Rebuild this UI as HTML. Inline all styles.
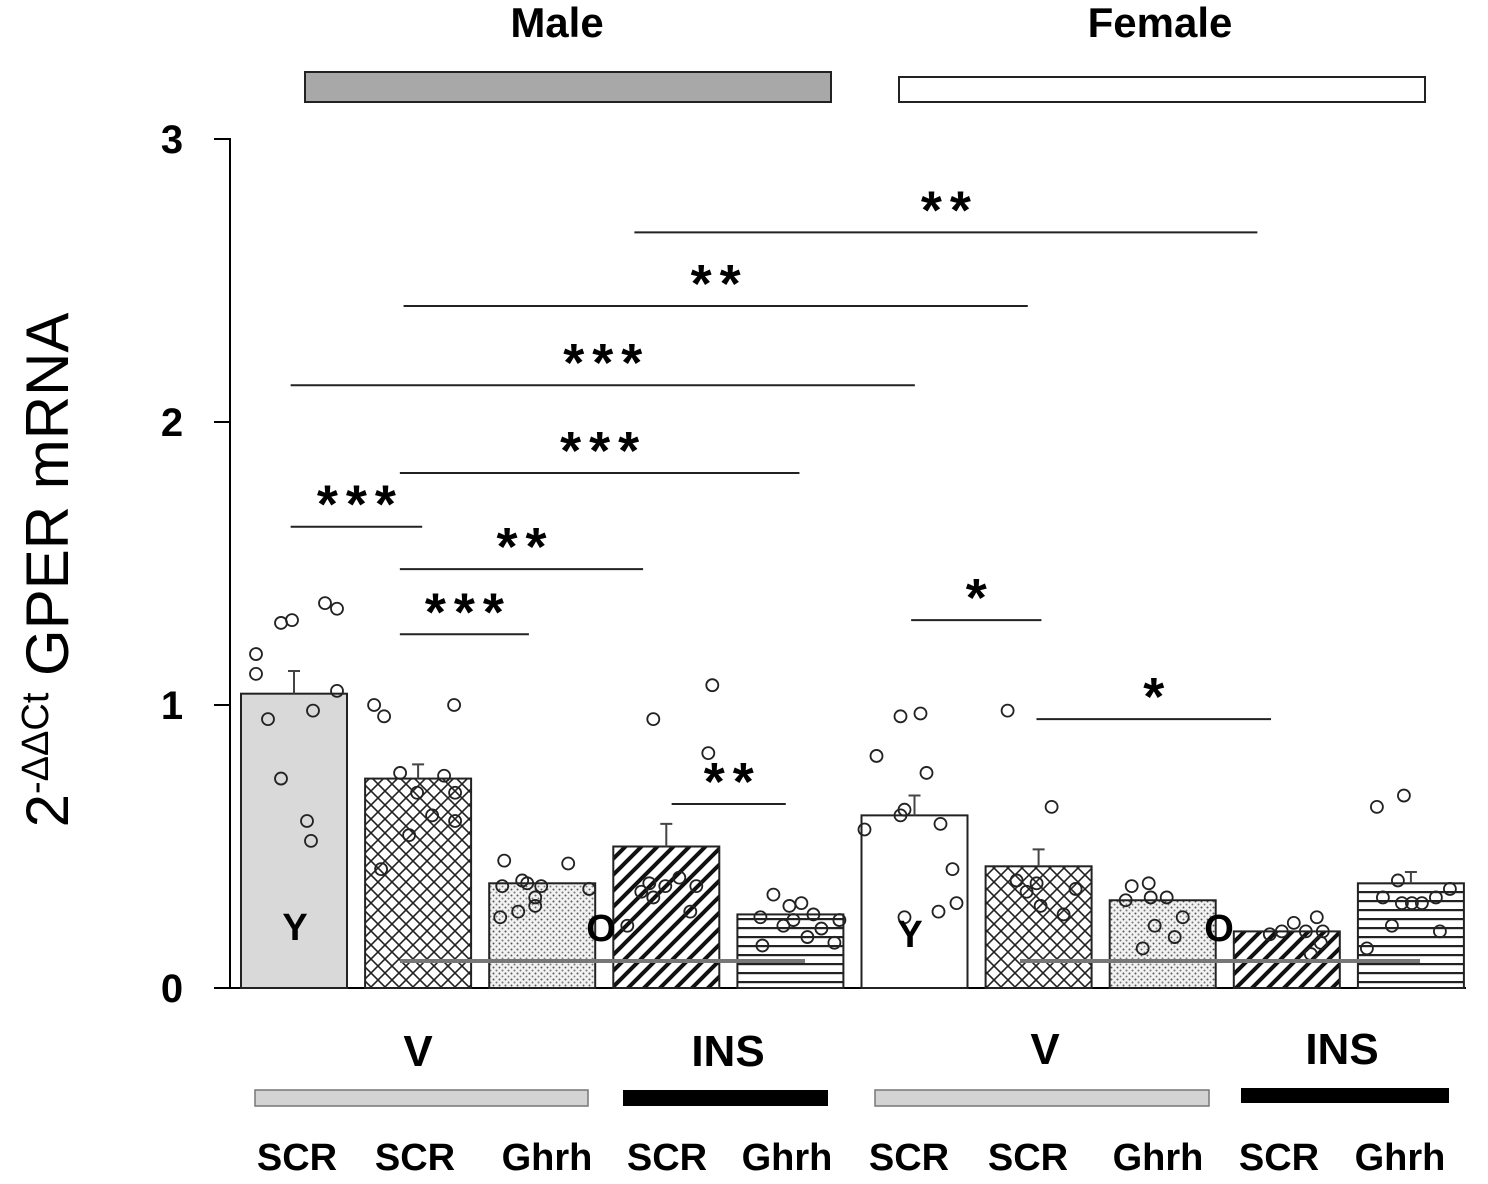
<!DOCTYPE html>
<html><head><meta charset="utf-8"><style>
html,body{margin:0;padding:0;background:#fff;width:1488px;height:1184px;overflow:hidden}
svg text{font-family:"Liberation Sans",Arial,sans-serif}
</style></head><body>
<svg id="chart" width="1488" height="1184" viewBox="0 0 1488 1184" xmlns="http://www.w3.org/2000/svg">
<defs>
<pattern id="pCross" patternUnits="userSpaceOnUse" width="14" height="14">
<rect width="14" height="14" fill="#fff"/>
<path d="M0,0L14,14M14,0L0,14" stroke="#222" stroke-width="1.6"/>
</pattern>
<pattern id="pDots" patternUnits="userSpaceOnUse" width="6" height="6">
<rect width="6" height="6" fill="#f2f2f2"/>
<circle cx="1.5" cy="1.5" r="1" fill="#555"/>
<circle cx="4.5" cy="4.5" r="1" fill="#777"/>
</pattern>
<pattern id="pDiag" patternUnits="userSpaceOnUse" width="16" height="16">
<rect width="16" height="16" fill="#fff"/>
<path d="M-4,20L20,-4M-4,4L4,-4M12,20L20,12" stroke="#111" stroke-width="4"/>
</pattern>
<pattern id="pHoriz" patternUnits="userSpaceOnUse" width="10" height="9">
<rect width="10" height="9" fill="#fff"/>
<rect y="0" width="10" height="2.2" fill="#222"/>
</pattern>
</defs>

<text x="557" y="37" font-size="42" font-weight="bold" text-anchor="middle">Male</text>
<rect x="305" y="72" width="526" height="30" fill="#a8a8a8" stroke="#222" stroke-width="2"/>
<text x="1160" y="37" font-size="42" font-weight="bold" text-anchor="middle">Female</text>
<rect x="899" y="77" width="526" height="25" fill="#fff" stroke="#222" stroke-width="2"/>

<text transform="translate(68,570) rotate(-90)" text-anchor="middle" font-size="60">2<tspan font-size="38" dy="-20">-ΔΔCt</tspan><tspan dy="20"> GPER mRNA</tspan></text>

<g id="axes"></g>
<g id="bars"></g>
<g id="points"></g>
<g id="sig"></g>

<line x1="400" y1="961" x2="805" y2="961" stroke="#777" stroke-width="4"/>
<line x1="1020" y1="961" x2="1420" y2="961" stroke="#777" stroke-width="4"/>
<text x="295" y="940" font-size="38" font-weight="bold" text-anchor="middle">Y</text>
<text x="601" y="941" font-size="38" font-weight="bold" text-anchor="middle">O</text>
<text x="910" y="947" font-size="38" font-weight="bold" text-anchor="middle">Y</text>
<text x="1219" y="941" font-size="38" font-weight="bold" text-anchor="middle">O</text>

<text x="418" y="1066" font-size="44" font-weight="bold" text-anchor="middle">V</text>
<text x="728" y="1066" font-size="44" font-weight="bold" text-anchor="middle">INS</text>
<text x="1045" y="1064" font-size="44" font-weight="bold" text-anchor="middle">V</text>
<text x="1342" y="1064" font-size="44" font-weight="bold" text-anchor="middle">INS</text>
<rect x="255" y="1090" width="333" height="16" fill="#d3d3d3" stroke="#777" stroke-width="1.5"/>
<rect x="623" y="1090" width="205" height="16" fill="#000"/>
<rect x="875" y="1090" width="334" height="16" fill="#d3d3d3" stroke="#777" stroke-width="1.5"/>
<rect x="1241" y="1088" width="208" height="15" fill="#000"/>
<g id="xlabels"></g>
</svg>
<script>
const categories = ["SCR","SCR","Ghrh","SCR","Ghrh","SCR","SCR","Ghrh","SCR","Ghrh"];
const means = [1.04,0.74,0.37,0.50,0.26,0.61,0.43,0.31,0.20,0.37];
const errTops = [1.12,0.79,0.37,0.58,0.26,0.68,0.49,0.31,0.20,0.41];
const yTicks = [0,1,2,3];
const points = [
 [1.18,1.11,1.29,1.30,1.36,1.34,1.05,0.95,0.98,0.74,0.59,0.52],
 [1.00,0.96,1.00,0.76,0.75,0.69,0.69,0.61,0.59,0.54,0.42],
 [0.45,0.44,0.36,0.38,0.37,0.36,0.35,0.32,0.29,0.27,0.25],
 [0.95,1.07,0.83,0.37,0.36,0.39,0.36,0.34,0.32,0.27,0.22],
 [0.33,0.29,0.30,0.26,0.25,0.22,0.21,0.24,0.18,0.15,0.16,0.24],
 [0.96,0.97,0.82,0.76,0.61,0.63,0.56,0.58,0.42,0.30,0.27,0.25],
 [0.98,0.64,0.38,0.34,0.37,0.35,0.26,0.29],
 [0.36,0.37,0.31,0.32,0.32,0.25,0.22,0.18,0.14],
 [0.19,0.20,0.23,0.20,0.25,0.20,0.16,0.12],
 [0.64,0.68,0.38,0.35,0.32,0.30,0.30,0.30,0.32,0.22,0.20,0.14]
];
const jitter = [
 [-38,-38,-13,-2,31,43,43,-26,19,-13,13,17],
 [-44,-34,36,-18,26,-1,37,14,37,-9,-37],
 [-38,26,-40,-20,-15,-1,47,-7,-7,-24,-42],
 [-13,46,42,-17,-1,13,30,-25,-13,24,-39],
 [-17,-1,11,23,-30,-7,31,49,17,-28,44,3],
 [-14,6,-38,12,-14,-10,-50,26,38,42,24,-10],
 [-31,13,-22,-12,-2,37,25,2],
 [-31,-14,-37,-12,4,20,-8,12,-20],
 [-17,-5,7,19,30,36,34,24],
 [-34,-7,-13,39,-28,-9,1,11,25,-19,29,-44]
];
// significance brackets: start/end in bar-slot units, level in data units
const sigFrom = [3.17,1.31,0.40,1.28,0.40,1.28,1.28,3.47,5.40,6.41];
const sigTo = [8.19,6.34,5.43,4.50,1.46,3.24,2.32,4.39,6.45,8.30];
const sigLevel = [2.67,2.41,2.13,1.82,1.63,1.48,1.25,0.65,1.30,0.95];
const sigLabel = ["**","**","***","***","***","**","***","**","*","*"];
const fills = ["#d9d9d9","url(#pCross)","url(#pDots)","url(#pDiag)","url(#pHoriz)","#fff","url(#pCross)","url(#pDots)","url(#pDiag)","url(#pHoriz)"];
const labelX = [297,415,547,667,787,909,1028,1158,1279,1400];

const NS="http://www.w3.org/2000/svg";
const Y0=988, PXU=283, X0=241, STEP=124.1, BW=106;
const yS=v=>Y0-v*PXU;
const xL=i=>X0+i*STEP;
const xC=i=>xL(i)+BW/2;
const xU=u=>X0+u*STEP;
function mk(parent,tag,attrs){const e=document.createElementNS(NS,tag);for(const k in attrs)e.setAttribute(k,attrs[k]);parent.appendChild(e);return e;}

const axes=document.getElementById('axes');
let yl=mk(axes,'line',{x1:230,y1:yS(3)-1,x2:230,y2:Y0+1,stroke:'#000','stroke-width':2});


let xl=mk(axes,'line',{x1:229,y1:Y0,x2:1466,y2:Y0,stroke:'#000','stroke-width':2});


yTicks.forEach(t=>{
 let tk=mk(axes,'line',{x1:214,y1:yS(t),x2:230,y2:yS(t),stroke:'#000','stroke-width':2});
 
 
 let tl=mk(axes,'text',{x:172,y:yS(t)+14,'font-size':40,'font-weight':'bold','text-anchor':'middle'});
 tl.textContent=t;
 
 
});

const bars=document.getElementById('bars');
means.forEach((m,i)=>{
 let r=mk(bars,'rect',{x:xL(i),y:yS(m),width:BW,height:m*PXU,fill:fills[i],stroke:'#222','stroke-width':2});
 
 
 if(errTops[i]>m+0.005){
  let e=mk(bars,'path',{d:`M${xC(i)},${yS(m)}V${yS(errTops[i])}M${xC(i)-6},${yS(errTops[i])}H${xC(i)+6}`,stroke:'#444','stroke-width':2,fill:'none'});
  
  
 }
});

const pg=document.getElementById('points');
points.forEach((arr,i)=>{
 arr.forEach((v,j)=>{
  let c=mk(pg,'circle',{cx:xC(i)+jitter[i][j],cy:yS(v),r:6,fill:'none',stroke:'#222','stroke-width':1.8});
  
  
 });
});

const sg=document.getElementById('sig');
sigLabel.forEach((lab,k)=>{
 const x1=xU(sigFrom[k]), x2=xU(sigTo[k]);
 let l=mk(sg,'line',{x1:x1,y1:yS(sigLevel[k]),x2:x2,y2:yS(sigLevel[k]),stroke:'#222','stroke-width':2});
 
 
 let t=mk(sg,'text',{x:(x1+x2)/2+4,y:yS(sigLevel[k])-4,'font-size':54,'font-weight':'bold','text-anchor':'middle','letter-spacing':'8'});
 t.textContent=lab;
 
 
});

const xg=document.getElementById('xlabels');
categories.forEach((c,i)=>{
 let t=mk(xg,'text',{x:labelX[i],y:1170,'font-size':38,'font-weight':'bold','text-anchor':'middle'});
 t.textContent=c;
 
 
});
</script>
</body></html>
